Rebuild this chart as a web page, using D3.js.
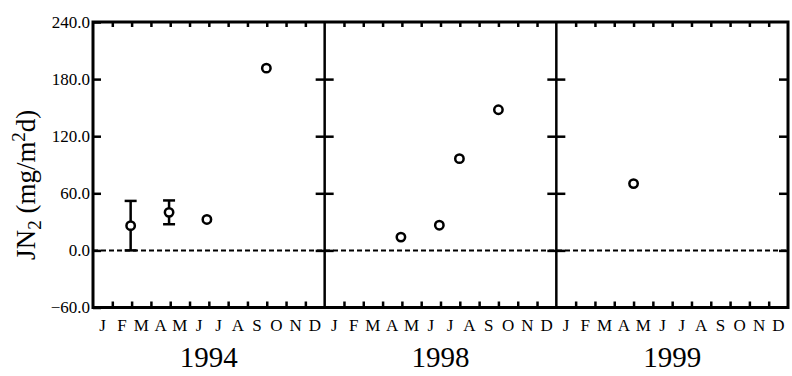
<!DOCTYPE html>
<html>
<head>
<meta charset="utf-8">
<script src="https://cdn.jsdelivr.net/npm/d3@7"></script>
<style>
  html, body { margin: 0; padding: 0; background: #fff; }
  svg { display: block; }
</style>
</head>
<body>
<svg id="chart"></svg>
<script>
// panels (years) and month labels
const years  = ['1994', '1998', '1999'];
const months = ['J', 'F', 'M', 'A', 'M', 'J', 'J', 'A', 'S', 'O', 'N', 'D'];
const yTicks = [-60, 0, 60, 120, 180, 240];

// observations: year, position in months (0 = 1 Jan, 12 = 31 Dec), JN2 value, error (±)
const pointYear  = ['1994', '1994', '1994', '1994', '1998', '1998', '1998', '1998', '1999'];
const pointMonth = [1.95, 3.94, 5.9, 8.98, 3.95, 5.94, 6.98, 9.0, 4.0];
const pointValue = [26, 40, 32.5, 191.5, 14, 26.5, 96.4, 147.8, 70.2];
const pointError = [26, 12.5, null, null, null, null, null, null, null];

const FONT = "'Liberation Serif', 'Times New Roman', serif";
const W = 792, H = 376;
const m = { top: 22, right: 4, bottom: 68.5, left: 93 };

const svg = d3.select('#chart')
  .attr('width', W)
  .attr('height', H)
  .attr('viewBox', `0 0 ${W} ${H}`)
  .attr('font-family', FONT);

const xPanel = d3.scaleBand().domain(years).range([m.left, W - m.right]).padding(0);
const y = d3.scaleLinear().domain([-60, 240]).range([H - m.bottom, m.top]);
const bw = xPanel.bandwidth();

const monthScale = yr => d3.scaleLinear().domain([0, 12]).range([xPanel(yr), xPanel(yr) + bw]);

// zero line (dashed)
svg.append('line')
  .attr('x1', m.left).attr('x2', W - m.right)
  .attr('y1', y(0)).attr('y2', y(0))
  .attr('stroke', '#000')
  .attr('stroke-width', 2)
  .attr('stroke-dasharray', '5,3');

years.forEach((yr, i) => {
  const ms = monthScale(yr);
  const mb = d3.scaleBand().domain(d3.range(12)).range([xPanel(yr), xPanel(yr) + bw]);

  // month ticks top (pointing down) and bottom (pointing up)
  svg.append('g')
    .attr('transform', `translate(0,${y(240)})`)
    .call(d3.axisTop(ms).tickValues(d3.range(1, 12)).tickSize(-5).tickFormat(''))
    .call(ax => {
      ax.select('.domain').remove();
      ax.selectAll('.tick line').attr('stroke-width', 2.5);
    });

  svg.append('g')
    .attr('transform', `translate(0,${y(-60)})`)
    .call(d3.axisBottom(ms).tickValues(d3.range(1, 12)).tickSize(-6).tickFormat(''))
    .call(ax => {
      ax.select('.domain').remove();
      ax.selectAll('.tick line').attr('stroke-width', 2.5);
    });

  // month letters
  svg.append('g')
    .attr('transform', `translate(0,${y(-60)})`)
    .call(d3.axisBottom(mb).tickSize(0).tickPadding(11).tickFormat(d => months[d]))
    .call(ax => {
      ax.attr('font-family', FONT).attr('font-size', 17);
      ax.select('.domain').remove();
    });

  // year label
  svg.append('text')
    .attr('x', xPanel(yr) + bw / 2)
    .attr('y', 367)
    .attr('text-anchor', 'middle')
    .attr('font-size', 29)
    .text(yr);

  // y ticks on the panel's left border
  if (i === 0) {
    svg.append('g')
      .attr('transform', `translate(${xPanel(yr)},0)`)
      .call(d3.axisLeft(y).tickValues(yTicks).tickSizeInner(-8).tickSizeOuter(0)
        .tickPadding(3).tickFormat(d3.format('.1f')))
      .call(ax => {
        ax.attr('font-family', FONT).attr('font-size', 17);
        ax.select('.domain').remove();
        ax.selectAll('.tick line').attr('stroke-width', 2.5);
      });
  } else {
    // divider: ticks cross both sides
    [d3.axisLeft(y), d3.axisRight(y)].forEach(axis => {
      svg.append('g')
        .attr('transform', `translate(${xPanel(yr)},0)`)
        .call(axis.tickValues(yTicks.filter(v => v > -60 && v < 240)).tickSize(9).tickFormat(''))
        .call(ax => {
          ax.select('.domain').remove();
          ax.selectAll('.tick line').attr('stroke-width', 2.5);
        });
    });
    svg.append('line')
      .attr('x1', xPanel(yr)).attr('x2', xPanel(yr))
      .attr('y1', y(240)).attr('y2', y(-60))
      .attr('stroke', '#000')
      .attr('stroke-width', 2.5);
  }
});

// right edge ticks (inward)
svg.append('g')
  .attr('transform', `translate(${W - m.right},0)`)
  .call(d3.axisRight(y).tickValues(yTicks.filter(v => v > -60 && v < 240)).tickSize(-9).tickFormat(''))
  .call(ax => {
    ax.select('.domain').remove();
    ax.selectAll('.tick line').attr('stroke-width', 2.5);
  });

// frame
svg.append('rect')
  .attr('x', m.left).attr('y', m.top)
  .attr('width', W - m.right - m.left)
  .attr('height', H - m.bottom - m.top)
  .attr('fill', 'none')
  .attr('stroke', '#000')
  .attr('stroke-width', 3);

// error bars
const pts = pointValue.map((v, i) => ({
  x: monthScale(pointYear[i])(pointMonth[i]),
  v, e: pointError[i]
}));

const eb = svg.append('g')
  .attr('stroke', '#000')
  .attr('stroke-width', 2.5)
  .selectAll('g')
  .data(pts.filter(d => d.e != null))
  .join('g');

eb.append('line')
  .attr('x1', d => d.x).attr('x2', d => d.x)
  .attr('y1', d => y(d.v + d.e)).attr('y2', d => y(d.v - d.e));
eb.append('line')
  .attr('x1', d => d.x - 6).attr('x2', d => d.x + 6)
  .attr('y1', d => y(d.v + d.e)).attr('y2', d => y(d.v + d.e));
eb.append('line')
  .attr('x1', d => d.x - 6).attr('x2', d => d.x + 6)
  .attr('y1', d => y(d.v - d.e)).attr('y2', d => y(d.v - d.e));

// points
svg.append('g')
  .selectAll('circle')
  .data(pts)
  .join('circle')
  .attr('cx', d => d.x)
  .attr('cy', d => y(d.v))
  .attr('r', 4.2)
  .attr('fill', '#fff')
  .attr('stroke', '#000')
  .attr('stroke-width', 2.5);

// y axis title: JN2 (mg/m2d)
const title = svg.append('text')
  .attr('transform', `translate(35,${(y(240) + y(-60)) / 2 + 20}) rotate(-90)`)
  .attr('text-anchor', 'middle')
  .attr('font-size', 27);
title.append('tspan').text('JN');
title.append('tspan').attr('font-size', 19).attr('dy', 6).text('2');
title.append('tspan').attr('dy', -6).text(' (mg/m');
title.append('tspan').attr('font-size', 19).attr('dy', -10).text('2');
title.append('tspan').attr('dy', 10).text('d)');
</script>
</body>
</html>
